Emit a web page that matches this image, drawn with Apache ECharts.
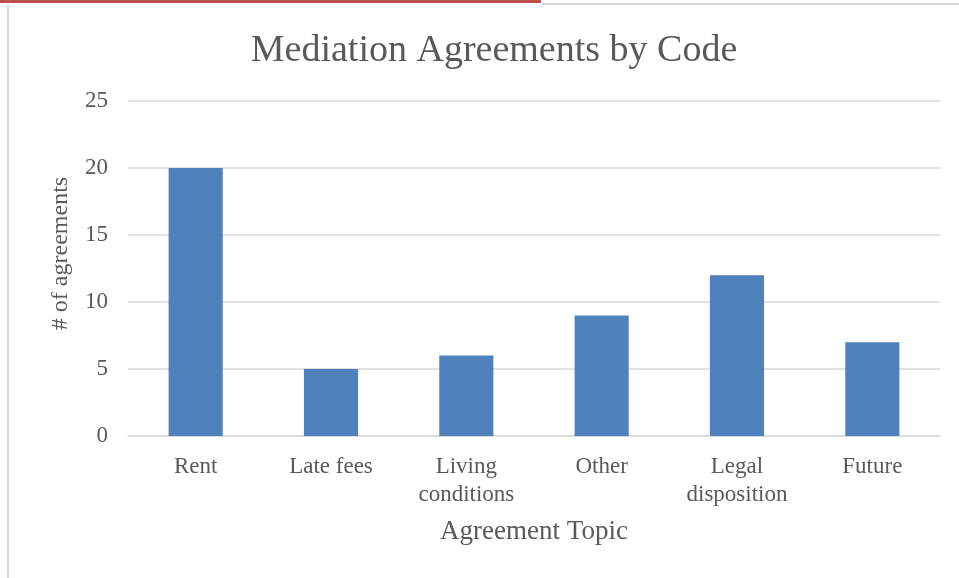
<!DOCTYPE html>
<html>
<head>
<meta charset="utf-8">
<script src="https://cdn.jsdelivr.net/npm/echarts@6/dist/echarts.min.js"></script>
<style>
  html, body { margin: 0; padding: 0; background: #fff; }
  #chart { width: 959px; height: 578px; }
</style>
</head>
<body>
<div id="chart"></div>
<script>
// chart data
const categories = ['Rent', 'Late fees', 'Living\nconditions', 'Other', 'Legal\ndisposition', 'Future']
const agreements = [20, 5, 6, 9, 12, 7]
const yTicks = [0, 5, 10, 15, 20, 25]

const font = 'Liberation Serif'
const textColor = '#595959'

const myChart = echarts.init(document.getElementById('chart'))

const option = {
  backgroundColor: '#fff',
  animation: false,
  graphic: [
    // frame lines round the chart
    { type: 'rect', shape: { x: 0, y: 0, width: 541, height: 3 }, style: { fill: '#c0504d' } },
    { type: 'rect', shape: { x: 541, y: 3, width: 418, height: 2 }, style: { fill: '#d9d9d9' } },
    { type: 'rect', shape: { x: 7, y: 5, width: 2, height: 573 }, style: { fill: '#d9d9d9' } }
  ],
  title: {
    text: 'Mediation Agreements by Code',
    left: 489,
    top: 27,
    textAlign: 'center',
    textStyle: {
      color: textColor,
      fontFamily: font,
      fontSize: 38,
      fontWeight: 'normal'
    }
  },
  grid: {
    left: 128,
    right: 19,
    top: 101,
    bottom: 142,
    containLabel: false
  },
  xAxis: {
    type: 'category',
    data: categories,
    name: 'Agreement Topic',
    nameLocation: 'middle',
    nameGap: 82,
    nameTextStyle: { color: textColor, fontFamily: font, fontSize: 27 },
    axisLine: { lineStyle: { color: '#d9d9d9', width: 1.5 } },
    axisTick: { show: false },
    axisLabel: {
      color: textColor,
      fontFamily: font,
      fontSize: 23,
      lineHeight: 28,
      margin: 17,
      interval: 0
    }
  },
  yAxis: {
    type: 'value',
    min: 0,
    max: 25,
    interval: 5,
    name: '# of agreements',
    nameLocation: 'middle',
    nameGap: 55,
    nameRotate: 90,
    nameTextStyle: { color: textColor, fontFamily: font, fontSize: 24, padding: [0, 0, 0, 30] },
    axisLine: { show: false },
    axisTick: { show: false },
    axisLabel: {
      color: textColor,
      fontFamily: font,
      fontSize: 23,
      margin: 20,
      formatter: (v) => (yTicks.includes(v) ? String(v) : '')
    },
    splitLine: { lineStyle: { color: '#d9d9d9', width: 1.5 } }
  },
  series: [
    {
      type: 'bar',
      data: agreements,
      barWidth: '40%',
      itemStyle: { color: '#4f81bd' }
    }
  ]
}

myChart.setOption(option)
</script>
</body>
</html>
